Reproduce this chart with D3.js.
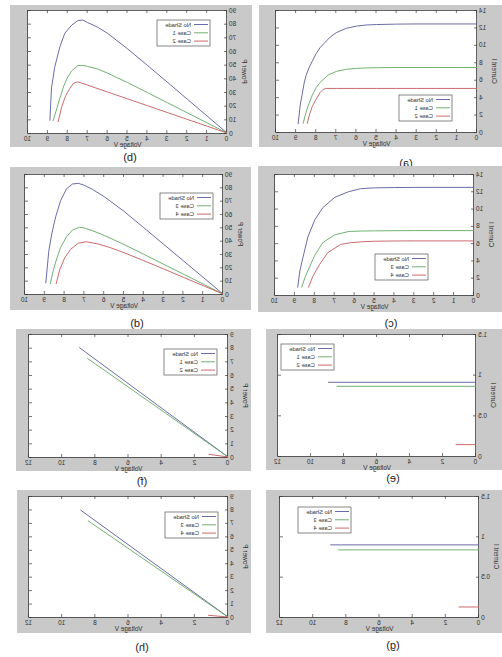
<!DOCTYPE html>
<html>
<head>
<meta charset="utf-8">
<script src="https://cdn.jsdelivr.net/npm/d3@7"></script>
<style>
  body { margin: 0; background: #fff; }
  svg { display: block; }
  text { font-family: "Liberation Sans", Arial, sans-serif; }
</style>
</head>
<body>
<div id="fig"></div>
<script>
// (a) I-V, cases 1 and 2
const noShadeV_a = [0, 1, 2, 3, 4, 5, 5.5, 6, 6.5, 7, 7.3, 7.6, 7.8, 8.0, 8.2, 8.35, 8.5, 8.6, 8.7, 8.8, 8.9];
const noShadeI_a = [12.4, 12.4, 12.4, 12.4, 12.38, 12.33, 12.28, 12.15, 11.9, 11.4, 10.9, 10.2, 9.7, 9.0, 8.1, 7.4, 6.5, 5.6, 4.3, 3.0, 0.9];
const case1V_a = [0, 1, 2, 3, 4, 5, 5.5, 6, 6.5, 7, 7.4, 7.8, 8.0, 8.2, 8.4, 8.55, 8.65];
const case1I_a = [7.4, 7.4, 7.4, 7.4, 7.4, 7.38, 7.35, 7.3, 7.2, 6.95, 6.55, 5.7, 5.1, 4.2, 3.0, 1.9, 0.95];
const case2V_a = [0, 1, 2, 3, 4, 5, 6, 7, 7.5, 7.65, 7.8, 8.0, 8.2, 8.32, 8.45];
const case2I_a = [5, 5, 5, 5, 5, 5, 5, 5, 5.0, 4.9, 4.55, 3.8, 2.9, 2.1, 0.95];

// (b) P-V, cases 1 and 2
const noShadeV_b = [0, 1, 2, 3, 4, 5, 6, 6.5, 7, 7.25, 7.5, 7.8, 8.15, 8.4, 8.66, 8.82, 8.9];
const noShadeP_b = [0, 12.4, 24.8, 37.2, 49.5, 61.6, 72.9, 77.4, 80.8, 82.7, 82.2, 79, 73, 63, 48, 33, 9];
const case1V_b = [0, 1, 2, 3, 4, 5, 6, 6.5, 7, 7.25, 7.5, 7.8, 8.0, 8.2, 8.4, 8.55, 8.74];
const case1P_b = [0, 7.4, 14.8, 22.2, 29.6, 36.9, 43.8, 46.8, 48.7, 49.5, 49.3, 45.5, 41, 34.5, 25.5, 18, 8.8];
const case2V_b = [0, 1, 2, 3, 4, 5, 6, 7, 7.3, 7.5, 7.7, 7.9, 8.1, 8.3, 8.49];
const case2P_b = [0, 5, 10, 15, 20, 25, 30, 35, 36.5, 37.4, 36.6, 32.5, 27.5, 19.5, 8];

// (c) I-V, cases 3 and 4
const noShadeV_c = [0, 1, 2, 3, 4, 5, 5.7, 6.3, 7, 7.6, 8.0, 8.35, 8.6, 8.75, 8.86];
const noShadeI_c = [12.45, 12.45, 12.45, 12.45, 12.43, 12.4, 12.3, 11.95, 11.3, 10.1, 8.7, 6.7, 4.3, 2.8, 0.86];
const case3V_c = [0, 1, 2, 3, 4, 5, 5.7, 6.3, 7.0, 7.6, 8.0, 8.35, 8.5, 8.66];
const case3I_c = [7.45, 7.45, 7.45, 7.45, 7.44, 7.42, 7.4, 7.35, 6.96, 6.06, 4.6, 2.8, 2.0, 0.86];
const case4V_c = [0, 1, 2, 3, 4, 5, 5.7, 6.2, 6.7, 7.35, 7.77, 8.1, 8.32];
const case4I_c = [6.26, 6.26, 6.26, 6.26, 6.25, 6.22, 6.15, 6.05, 5.85, 4.9, 3.5, 2.15, 0.86];

// (d) P-V, cases 3 and 4
const noShadeV_d = [0, 1, 2, 3, 4, 5, 6, 6.6, 7, 7.3, 7.6, 7.9, 8.2, 8.45, 8.65, 8.8, 8.95];
const noShadeP_d = [0, 12.45, 24.9, 37.3, 49.7, 62, 73, 78.5, 81.5, 83, 82.5, 79, 70, 58, 45, 32, 8];
const case3V_d = [0, 1, 2, 3, 4, 5, 6, 6.6, 7, 7.25, 7.6, 7.9, 8.2, 8.45, 8.6, 8.73];
const case3P_d = [0, 7.45, 14.9, 22.3, 29.8, 37.1, 44, 47.5, 49.5, 50, 48, 43, 35, 24, 16, 7.5];
const case4V_d = [0, 1, 2, 3, 4, 5, 5.7, 6.3, 6.9, 7.3, 7.7, 8.0, 8.25, 8.43];
const case4P_d = [0, 6.26, 12.5, 18.8, 25, 31, 34.8, 37.5, 39.2, 38.2, 33.5, 27, 18, 7.5];

// (e)-(h) second operating point
const noShadeV_e = [0, 8.97], noShadeI_e = [0.906, 0.906];
const case1V_e = [0, 8.44], case1I_e = [0.857, 0.857];
const case2V_e = [0, 1.23], case2I_e = [0.14, 0.14];

const noShadeV_f = [0, 8.97], noShadeP_f = [0, 8.01];
const case1V_f = [0, 8.49], case1P_f = [0, 7.23];
const case2V_f = [0, 1.17], case2P_f = [0, 0.2];

const noShadeV_g = [0, 8.97], noShadeI_g = [0.894, 0.894];
const case3V_g = [0, 8.49], case3I_g = [0.832, 0.832];
const case4V_g = [0, 1.23], case4I_g = [0.124, 0.124];

const noShadeV_h = [0, 8.9], noShadeP_h = [0, 7.96];
const case3V_h = [0, 8.44], case3P_h = [0, 7.16];
const case4V_h = [0, 1.2], case4P_h = [0, 0.13];

const ticks10 = d3.range(0, 11);
const ticks12 = d3.range(0, 13, 2);
const currentTicks14 = d3.range(0, 15, 2);
const powerTicks90 = d3.range(0, 91, 10);
const currentTicks15 = [0, 0.5, 1, 1.5];
const powerTicks9 = d3.range(0, 10);

const colors = { "No Shade": "#5a5a9e", "Case 1": "#62a862", "Case 3": "#62a862", "Case 2": "#c65a5a", "Case 4": "#c65a5a" };

function s(name, v, y) {
  return { name: name, values: v.map((d, i) => ({ v: d, y: y[i] })) };
}

const panels = [
  { label: "(a)", box: [0, 5, 243, 142], plot: [25, 10, 201, 122], xTicks: ticks10, yTicks: currentTicks14, yTitle: "Current I",
    legend: [50, 95], labelPos: [96, 163],
    series: [s("No Shade", noShadeV_a, noShadeI_a), s("Case 1", case1V_a, case1I_a), s("Case 2", case2V_a, case2I_a)] },
  { label: "(b)", box: [250, 5, 242, 142], plot: [275, 10, 199, 123], xTicks: ticks10, yTicks: powerTicks90, yTitle: "Power P",
    legend: [292, 20], labelPos: [372, 157],
    series: [s("No Shade", noShadeV_b, noShadeP_b), s("Case 1", case1V_b, case1P_b), s("Case 2", case2V_b, case2P_b)] },
  { label: "(c)", box: [0, 166, 244, 146], plot: [28, 174, 199, 121], xTicks: ticks10, yTicks: currentTicks14, yTitle: "Current I",
    legend: [74, 254], labelPos: [111, 323],
    series: [s("No Shade", noShadeV_c, noShadeI_c), s("Case 3", case3V_c, case3I_c), s("Case 4", case4V_c, case4I_c)] },
  { label: "(d)", box: [251, 167, 241, 143], plot: [279, 174, 198, 120], xTicks: ticks10, yTicks: powerTicks90, yTitle: "Power P",
    legend: [289, 193], labelPos: [365, 323],
    series: [s("No Shade", noShadeV_d, noShadeP_d), s("Case 3", case3V_d, case3P_d), s("Case 4", case4V_d, case4P_d)] },
  { label: "(e)", box: [0, 329, 236, 141], plot: [26, 334, 198, 122], xTicks: ticks12, yTicks: currentTicks15, yTitle: "Current I",
    legend: [168, 344], labelPos: [109, 478],
    series: [s("No Shade", noShadeV_e, noShadeI_e), s("Case 1", case1V_e, case1I_e), s("Case 2", case2V_e, case2I_e)] },
  { label: "(f)", box: [251, 329, 235, 142], plot: [274, 334, 199, 123], xTicks: ticks12, yTicks: powerTicks9, yTitle: "Power P",
    legend: [285, 349], labelPos: [360, 481],
    series: [s("No Shade", noShadeV_f, noShadeP_f), s("Case 1", case1V_f, case1P_f), s("Case 2", case2V_f, case2P_f)] },
  { label: "(g)", box: [0, 490, 236, 143], plot: [23, 496, 199, 121], xTicks: ticks12, yTicks: currentTicks15, yTitle: "Current I",
    legend: [151, 507], labelPos: [109, 645],
    series: [s("No Shade", noShadeV_g, noShadeI_g), s("Case 3", case3V_g, case3I_g), s("Case 4", case4V_g, case4I_g)] },
  { label: "(h)", box: [251, 490, 234, 143], plot: [274, 496, 199, 121], xTicks: ticks12, yTicks: powerTicks9, yTitle: "Power P",
    legend: [284, 512], labelPos: [360, 647],
    series: [s("No Shade", noShadeV_h, noShadeP_h), s("Case 3", case3V_h, case3P_h), s("Case 4", case4V_h, case4P_h)] },
];

const width = 502, height = 657;
const tickFont = 6.5;

const svg = d3.select("#fig").append("svg")
  .attr("width", width)
  .attr("height", height);

svg.append("rect").attr("width", width).attr("height", height).attr("fill", "#fff");

// the reference figure is a mirror image, so the whole drawing is flipped
const root = svg.append("g")
  .attr("transform", `translate(${width},0) scale(-1,1)`);

panels.forEach(drawPanel);

function drawPanel(p) {
  const [bx, by, bw, bh] = p.box;
  const [px, py, pw, ph] = p.plot;

  root.append("rect")
    .attr("x", bx).attr("y", by).attr("width", bw).attr("height", bh)
    .attr("fill", "#c9c9c9");

  const g = root.append("g").attr("transform", `translate(${px},${py})`);

  g.append("rect").attr("width", pw).attr("height", ph).attr("fill", "#fff");

  const x = d3.scaleLinear()
    .domain([0, d3.max(p.xTicks)])
    .range([0, pw]);

  const y = d3.scaleLinear()
    .domain([0, d3.max(p.yTicks)])
    .range([ph, 0]);

  const fmt = d => String(d);

  const styleAxis = a => {
    a.selectAll("path").attr("stroke", "#3a3a3a").attr("stroke-width", 0.8);
    a.selectAll("line").attr("stroke", "#3a3a3a").attr("stroke-width", 0.7);
    a.selectAll("text").attr("font-size", tickFont).attr("fill", "#333")
      .style("font-family", '"Liberation Sans", Arial, sans-serif');
  };

  g.append("g")
    .attr("transform", `translate(0,${ph})`)
    .call(d3.axisBottom(x).tickValues(p.xTicks).tickFormat(fmt).tickSize(-3).tickSizeOuter(0).tickPadding(3))
    .call(styleAxis);

  g.append("g")
    .call(d3.axisTop(x).tickValues(p.xTicks).tickFormat("").tickSize(-3).tickSizeOuter(0))
    .call(styleAxis);

  g.append("g")
    .call(d3.axisLeft(y).tickValues(p.yTicks).tickFormat(fmt).tickSize(-3).tickSizeOuter(0).tickPadding(2))
    .call(styleAxis);

  g.append("g")
    .attr("transform", `translate(${pw},0)`)
    .call(d3.axisRight(y).tickValues(p.yTicks).tickFormat("").tickSize(-3).tickSizeOuter(0))
    .call(styleAxis);

  const line = d3.line()
    .x(d => x(d.v))
    .y(d => y(d.y));

  g.append("g")
    .selectAll("path")
    .data(p.series)
    .join("path")
    .attr("d", d => line(d.values))
    .attr("fill", "none")
    .attr("stroke", d => colors[d.name])
    .attr("stroke-width", 0.9);

  g.append("text")
    .attr("x", pw / 2)
    .attr("y", ph + 14)
    .attr("text-anchor", "middle")
    .attr("font-size", tickFont)
    .attr("fill", "#333")
    .text("Voltage V");

  g.append("text")
    .attr("transform", `translate(-17,${ph / 2}) rotate(-90)`)
    .attr("text-anchor", "middle")
    .attr("dy", "0.35em")
    .attr("font-size", tickFont)
    .attr("fill", "#333")
    .text(p.yTitle);

  // legend box
  const [lx, ly] = p.legend;
  const legend = root.append("g").attr("transform", `translate(${lx},${ly})`);
  legend.append("rect")
    .attr("width", 53).attr("height", 26)
    .attr("fill", "#fff").attr("stroke", "#555").attr("stroke-width", 0.7);

  const item = legend.selectAll("g")
    .data(p.series)
    .join("g")
    .attr("transform", (d, i) => `translate(0,${4.5 + i * 8.3})`);

  item.append("line")
    .attr("x1", 2).attr("x2", 16)
    .attr("stroke", d => colors[d.name])
    .attr("stroke-width", 0.9);

  item.append("text")
    .attr("x", 19)
    .attr("dy", "0.35em")
    .attr("font-size", 5.8)
    .attr("fill", "#333")
    .text(d => d.name);

  root.append("text")
    .attr("x", p.labelPos[0])
    .attr("y", p.labelPos[1])
    .attr("dy", "0.35em")
    .attr("text-anchor", "middle")
    .attr("font-size", 11)
    .attr("fill", "#222")
    .text(p.label);
}
</script>
</body>
</html>
